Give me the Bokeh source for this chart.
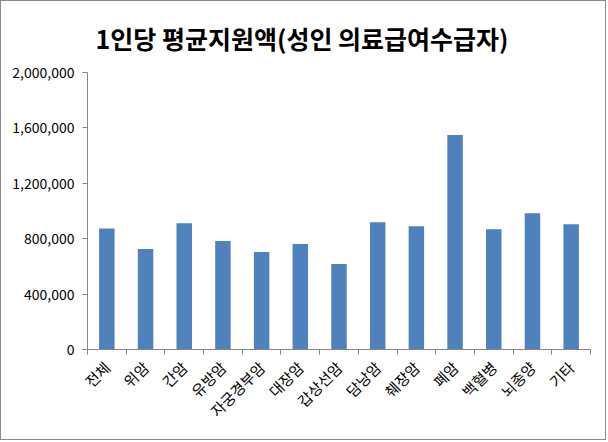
import math
from bokeh.plotting import figure
from bokeh.models import ColumnDataSource, FixedTicker, NumeralTickFormatter, Range1d
from bokeh.embed import file_html
from bokeh.resources import INLINE

categories = ["전체", "위암", "간암", "유방암", "자궁경부암", "대장암", "갑상선암",
              "담낭암", "췌장암", "폐암", "백혈병", "뇌종양", "기타"]
values = [874000, 726000, 912000, 783000, 704000, 761000, 618000,
          919000, 890000, 1549000, 869000, 983000, 905000]
y_ticks = [0, 400000, 800000, 1200000, 1600000, 2000000]
title_text = "1인당 평균지원액(성인 의료급여수급자)"

FONT = "Noto Sans CJK KR"

xs = [i + 0.5 for i in range(len(categories))]
src = ColumnDataSource(dict(x=xs, top=values, cat=categories))

p = figure(width=606, height=440, output_backend="svg", toolbar_location=None,
           x_range=Range1d(0, len(categories)), y_range=Range1d(0, y_ticks[-1]),
           min_border_left=86, min_border_right=17, min_border_top=69, min_border_bottom=92,
           title=title_text)
p.styles = {"border": "1px solid #8a8a8a"}

p.vbar(x="x", top="top", width=0.4, source=src, fill_color="#4F81BD", line_color=None)

p.title.align = "left"
p.title.offset = 8
p.title.text_font = FONT
p.title.text_font_size = "25px"
p.title.text_font_style = "bold"
p.title.text_color = "#000000"
p.title.standoff = 33

p.outline_line_color = None
p.xgrid.grid_line_color = None
p.ygrid.grid_line_color = None
p.background_fill_color = "white"
p.border_fill_color = "white"

ax = p.xaxis[0]
ax.ticker = FixedTicker(ticks=xs, minor_ticks=list(range(len(categories) + 1)))
ax.major_label_overrides = {x: c for x, c in zip(xs, categories)}
ax.major_label_orientation = math.pi / 4
ax.major_tick_line_color = None
ax.minor_tick_line_color = "#868686"
ax.minor_tick_in = 0
ax.minor_tick_out = 5
ax.axis_line_color = "#868686"
ax.major_label_text_font = FONT
ax.major_label_text_font_size = "15px"
ax.major_label_text_color = "#000000"
ax.major_label_standoff = 9

ay = p.yaxis[0]
ay.ticker = FixedTicker(ticks=y_ticks)
ay.formatter = NumeralTickFormatter(format="0,0")
ay.major_tick_in = 0
ay.major_tick_out = 5
ay.major_tick_line_color = "#868686"
ay.minor_tick_line_color = None
ay.axis_line_color = "#868686"
ay.major_label_text_font = FONT
ay.major_label_text_font_size = "14px"
ay.major_label_text_color = "#000000"
ay.major_label_standoff = 8

open("out.html", "w").write(file_html(p, INLINE))
